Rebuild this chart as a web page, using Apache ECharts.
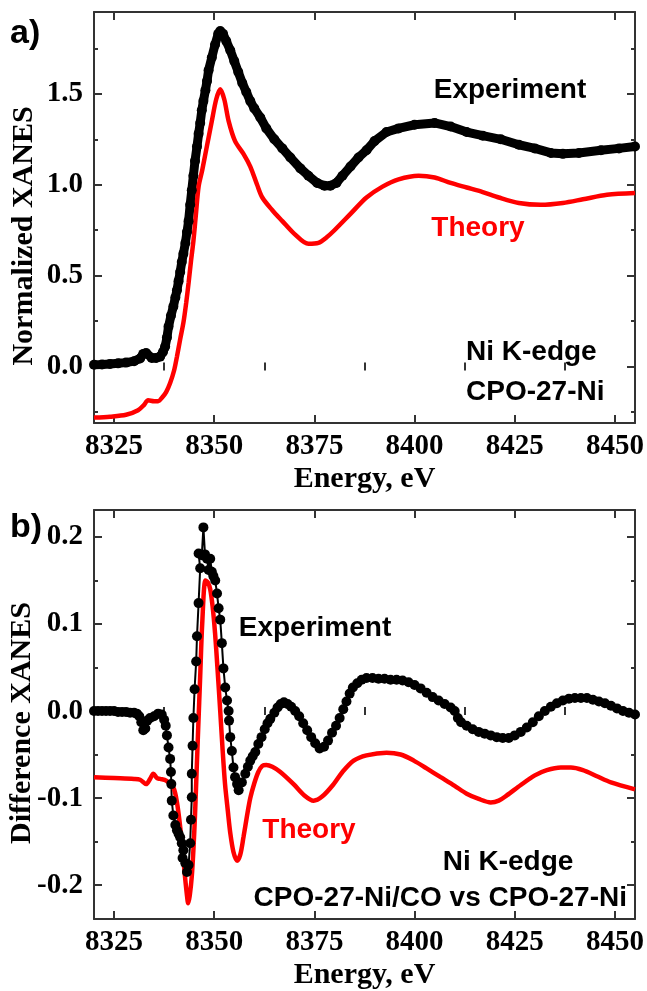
<!DOCTYPE html>
<html>
<head>
<meta charset="utf-8">
<script src="https://cdn.jsdelivr.net/npm/echarts@6/dist/echarts.min.js"></script>
<style>
  html, body { margin: 0; padding: 0; background: #fff; }
  #chart { width: 647px; height: 991px; }
</style>
</head>
<body>
<div id="chart"></div>
<script>
// ---- data ----
// a) Ni K-edge, CPO-27-Ni
var topExpE = [8320, 8322, 8324, 8326, 8328, 8330, 8331.5, 8332.3, 8333, 8334.4, 8335.5, 8336.5, 8337.2, 8337.75,
	8338.2, 8338.6, 8339.2, 8339.8, 8340.3, 8340.7, 8341.1, 8341.5, 8341.9, 8342.3, 8342.8, 8343.2, 8343.6, 8344,
	8344.4, 8344.8, 8345.2, 8345.7, 8346.1, 8346.5, 8346.9, 8347.3, 8347.8, 8348.2, 8348.6, 8349.4, 8350.2, 8351,
	8351.5, 8352.2, 8353, 8354, 8355, 8356, 8357, 8358, 8359, 8360, 8361.5, 8363, 8365, 8367, 8369, 8371.5, 8373.5,
	8375.7, 8377.5, 8379, 8380.5, 8382, 8384, 8386, 8388, 8390, 8393, 8396, 8400, 8405, 8409, 8413, 8417, 8421.5,
	8426, 8430, 8434, 8437, 8441, 8446.5, 8451, 8455];
var topExp = [0.01, 0.012, 0.015, 0.018, 0.022, 0.03, 0.045, 0.07, 0.075, 0.048, 0.048, 0.055, 0.08, 0.11,
	0.16, 0.22, 0.28, 0.33, 0.38, 0.42, 0.47, 0.52, 0.575, 0.62, 0.68, 0.74, 0.80, 0.89,
	0.97, 1.05, 1.13, 1.21, 1.28, 1.34, 1.41, 1.46, 1.52, 1.57, 1.63, 1.70, 1.77, 1.83,
	1.845, 1.83, 1.79, 1.74, 1.68, 1.62, 1.56, 1.51, 1.46, 1.42, 1.37, 1.31, 1.25, 1.20, 1.15, 1.09, 1.05,
	1.01, 0.995, 0.995, 1.01, 1.05, 1.10, 1.15, 1.19, 1.24, 1.29, 1.31, 1.33, 1.34, 1.32, 1.29, 1.27, 1.25,
	1.22, 1.20, 1.175, 1.17, 1.175, 1.19, 1.20, 1.21];

var topThE = [8320, 8324, 8328, 8331, 8332.5, 8333.5, 8335, 8336, 8337, 8338, 8339, 8340, 8340.7, 8341.5, 8342.3,
	8343, 8343.6, 8344.2, 8344.8, 8345.4, 8346.1, 8347, 8347.8, 8348.6, 8349.4, 8350.5, 8351.5, 8352.5, 8353.6,
	8355.2, 8357.3, 8359, 8360.7, 8362, 8364.5, 8367, 8370, 8373.5, 8376, 8378, 8380, 8384, 8388, 8392, 8396,
	8401, 8405, 8409, 8413, 8417, 8421, 8426, 8431.5, 8437, 8442, 8448, 8455];
var topTh = [-0.28, -0.275, -0.265, -0.24, -0.21, -0.185, -0.19, -0.19, -0.17, -0.14, -0.09, -0.02, 0.055, 0.15, 0.24,
	0.35, 0.46, 0.58, 0.69, 0.83, 0.99, 1.08, 1.17, 1.26, 1.35, 1.47, 1.525, 1.47, 1.35,
	1.24, 1.17, 1.10, 1.0, 0.93, 0.86, 0.80, 0.73, 0.675, 0.68, 0.71, 0.75, 0.84, 0.93, 0.99, 1.03,
	1.05, 1.04, 1.01, 0.985, 0.96, 0.93, 0.90, 0.89, 0.90, 0.92, 0.945, 0.955];

// b) difference CPO-27-Ni/CO vs CPO-27-Ni
var botExpE = [8320, 8321, 8322, 8323, 8324, 8325, 8326, 8327, 8328, 8329, 8330, 8330.7, 8331.3, 8331.8, 8332.3, 8332.8,
	8333.3, 8334, 8335, 8336, 8336.9, 8337.5, 8337.9, 8338.2, 8338.6, 8339, 8339.2, 8339.3, 8339.4, 8339.8, 8340.3,
	8340.7, 8341.1, 8341.5, 8341.9, 8342.3, 8342.1, 8342.8, 8343.2, 8343.6, 8344, 8344.2, 8344.4, 8344.4, 8344.6,
	8344.8, 8345.1, 8345.5, 8345.7, 8346.1, 8346.5, 8346.1, 8346.9, 8347.3, 8347.7, 8348.2, 8348.6, 8349, 8349.4,
	8349.8, 8350.25, 8350.7, 8351.1, 8351.5, 8351.9, 8352.3, 8352.75, 8353.2, 8353.6, 8353.7, 8354, 8354.4, 8354.8,
	8355.2, 8355.7, 8356.1, 8356.9, 8357.75, 8358.4, 8359, 8359.6, 8360.25, 8361, 8361.8, 8362.6, 8363.3, 8364,
	8365, 8365.8, 8366.6, 8367.4, 8368.3, 8369.2, 8370.2, 8371.2, 8372.2, 8373.2, 8374.2, 8375.2, 8376.3, 8377.4,
	8378.4, 8379.4, 8380.4, 8381.3, 8382.2, 8383, 8383.8, 8384.6, 8385.7, 8386.8, 8388, 8389.5, 8391, 8392.5, 8394,
	8395.5, 8397, 8398.5, 8400, 8401.5, 8403, 8404.5, 8406, 8407.5, 8409, 8410, 8410.8, 8411.6, 8413, 8414.5, 8416,
	8417.5, 8419, 8420.5, 8422, 8423.5, 8425, 8426.5, 8428, 8429.5, 8431, 8432.5, 8434, 8435.5, 8437, 8438.5, 8440,
	8441.5, 8443, 8444.5, 8446, 8447.5, 8449, 8450.5, 8452, 8453.5, 8455];
var botExp = [0.0, 0.0, 0.0, 0.0, 0.0, 0.0, -0.001, -0.001, -0.001, -0.002, -0.002, -0.003, -0.006, -0.013, -0.022, -0.02,
	-0.011, -0.008, -0.006, -0.003, -0.004, -0.01, -0.017, -0.028, -0.042, -0.055, -0.07, -0.084, -0.103, -0.12, -0.131,
	-0.137, -0.141, -0.145, -0.152, -0.16, -0.169, -0.175, -0.185, -0.177, -0.152, -0.125, -0.099, -0.072, -0.04,
	-0.008, 0.025, 0.057, 0.086, 0.124, 0.164, 0.181, 0.179, 0.211, 0.18, 0.175, 0.162, 0.175, 0.16,
	0.155, 0.15, 0.135, 0.118, 0.105, 0.078, 0.049, 0.027, 0.012, 0.0, -0.011, -0.03, -0.046, -0.065,
	-0.076, -0.084, -0.091, -0.082, -0.072, -0.064, -0.057, -0.052, -0.047, -0.038, -0.03, -0.021, -0.014, -0.009,
	-0.002, 0.004, 0.008, 0.01, 0.008, 0.005, 0.0, -0.006, -0.014, -0.022, -0.03, -0.037, -0.043, -0.041,
	-0.034, -0.025, -0.017, -0.008, 0.002, 0.011, 0.02, 0.027, 0.032, 0.036, 0.038, 0.038, 0.037, 0.037, 0.036,
	0.036, 0.035, 0.033, 0.03, 0.026, 0.021, 0.016, 0.012, 0.008, 0.004, 0.0, -0.008, -0.013, -0.017, -0.021, -0.024,
	-0.026, -0.028, -0.03, -0.031, -0.031, -0.028, -0.024, -0.019, -0.013, -0.006, 0.0, 0.005, 0.009, 0.012, 0.014, 0.015,
	0.015, 0.015, 0.013, 0.011, 0.009, 0.006, 0.003, 0.0, -0.002, -0.004];

var botThE = [8320, 8325, 8330, 8331.5, 8333, 8334, 8334.8, 8335.7, 8336.5, 8338, 8339.8, 8340.7, 8341.5, 8342.2,
	8342.7, 8343.2, 8343.5, 8343.9, 8344.4, 8344.8, 8345.2, 8345.6, 8346, 8346.5, 8347, 8347.8, 8348.4, 8349,
	8349.6, 8350.2, 8350.8, 8351.5, 8352.1, 8352.7, 8353.4, 8354, 8354.8, 8355.7, 8356.5, 8357.3, 8358.2, 8359,
	8360, 8361, 8362, 8363, 8364.5, 8366.5, 8369.8, 8372.5, 8374.8, 8377, 8379.8, 8382, 8384.8, 8388, 8393,
	8396.5, 8399.8, 8403, 8406.5, 8410, 8413, 8416, 8419, 8421, 8423, 8426.5, 8430, 8433, 8436.5, 8439, 8442,
	8445.5, 8449, 8455];
var botTh = [-0.076, -0.077, -0.078, -0.079, -0.084, -0.078, -0.072, -0.077, -0.078, -0.08, -0.088, -0.105, -0.133, -0.165,
	-0.19, -0.212, -0.221, -0.212, -0.19, -0.16, -0.12, -0.07, -0.02, 0.04, 0.1, 0.15, 0.148, 0.14,
	0.12, 0.09, 0.05, 0.0, -0.045, -0.084, -0.115, -0.14, -0.162, -0.172, -0.165, -0.145, -0.12, -0.1,
	-0.083, -0.07, -0.063, -0.062, -0.064, -0.07, -0.084, -0.097, -0.103, -0.098, -0.084, -0.07, -0.057, -0.051, -0.048,
	-0.05, -0.057, -0.066, -0.076, -0.086, -0.095, -0.101, -0.105, -0.103, -0.097, -0.085, -0.074, -0.068, -0.065, -0.065, -0.068,
	-0.075, -0.082, -0.09];

// ticks
var xTicks = [8325, 8350, 8375, 8400, 8425, 8450];
var xMinor = [8337.5, 8362.5, 8387.5, 8412.5, 8437.5];
var topYTicks = [0, 0.5, 1.0, 1.5];
var topYMinor = [-0.25, 0.25, 0.75, 1.25, 1.75];
var botYTicks = [-0.2, -0.1, 0, 0.1, 0.2];
var botYMinor = [-0.15, -0.05, 0.05, 0.15];

function zip(a, b) {
	var out = [];
	for (var i = 0; i < a.length; i++) out.push([a[i], b[i]]);
	return out;
}

var axisColor = '#333';
var serif = 'Liberation Serif';
var sans = 'Liberation Sans';

// one set of axes per side: major ticks (with labels on bottom/left) + minor ticks
function makeAxes(kind, grid, min, max, majors, minors, fmt, name) {
	var sides = kind === 'x' ? ['bottom', 'top'] : ['left', 'right'];
	var list = [];
	sides.forEach(function(side, i) {
		var major = {
			type: 'value',
			gridIndex: grid,
			position: side,
			min: min,
			max: max,
			axisLine: { show: true, onZero: false, lineStyle: { color: axisColor, width: 2 } },
			axisTick: { show: true, inside: true, length: 8, customValues: majors, lineStyle: { color: axisColor, width: 2 } },
			axisLabel: {
				show: i === 0,
				customValues: majors,
				formatter: fmt,
				margin: kind === 'x' ? 9 : 11,
				fontFamily: serif,
				fontWeight: 'bold',
				fontSize: 29,
				color: '#000'
			},
			splitLine: { show: false }
		};
		if(i === 0 && name) {
			major.name = name;
			major.nameLocation = 'middle';
			major.nameGap = 41;
			major.nameTextStyle = { fontFamily: serif, fontWeight: 'bold', fontSize: 30, color: '#000' };
		}
		list.push(major);
		list.push({
			type: 'value',
			gridIndex: grid,
			position: side,
			min: min,
			max: max,
			axisLine: { show: false },
			axisTick: { show: true, inside: true, length: 4, customValues: minors, lineStyle: { color: axisColor, width: 2 } },
			axisLabel: { show: false },
			splitLine: { show: false }
		});
	});
	return list;
}

var fmtX = function(v) { return String(Math.round(v)); };
var fmtY = function(v) { return v.toFixed(1); };

var xAxes = makeAxes('x', 0, 8320, 8455, xTicks, xMinor, fmtX, 'Energy, eV')
	.concat(makeAxes('x', 1, 8320, 8455, xTicks, xMinor, fmtX, 'Energy, eV'));
var yAxes = makeAxes('y', 0, -0.31, 1.95, topYTicks, topYMinor, fmtY)
	.concat(makeAxes('y', 1, -0.239, 0.231, botYTicks, botYMinor, fmtY));

function label(text, x, y, color, align, size, font, rot) {
	return {
		type: 'text',
		x: x,
		y: y,
		rotation: rot || 0,
		z: 100,
		style: {
			text: text,
			fill: color,
			font: 'bold ' + size + 'px "' + font + '"',
			align: align,
			verticalAlign: 'middle'
		}
	};
}

var chart = echarts.init(document.getElementById('chart'));
var option = {
	animation: false,
	backgroundColor: '#fff',
	grid: [
		{ left: 94, top: 12, width: 541, height: 411 },
		{ left: 94, top: 510, width: 541, height: 412 }
	],
	xAxis: xAxes,
	yAxis: yAxes,
	series: [{
		name: 'Experiment a',
		type: 'line',
		xAxisIndex: 0,
		yAxisIndex: 0,
		data: zip(topExpE, topExp),
		symbol: 'circle',
		symbolSize: 10,
		showAllSymbol: true,
		itemStyle: { color: '#000' },
		lineStyle: { color: '#000', width: 9 }
	}, {
		name: 'Theory a',
		type: 'line',
		xAxisIndex: 0,
		yAxisIndex: 0,
		data: zip(topThE, topTh),
		showSymbol: false,
		smooth: 0.3,
		lineStyle: { color: '#ff0000', width: 4.5 }
	}, {
		name: 'Experiment b',
		type: 'line',
		xAxisIndex: 4,
		yAxisIndex: 4,
		data: zip(botExpE, botExp),
		symbol: 'circle',
		symbolSize: 10,
		showAllSymbol: true,
		itemStyle: { color: '#000' },
		lineStyle: { color: '#000', width: 2 }
	}, {
		name: 'Theory b',
		type: 'line',
		xAxisIndex: 4,
		yAxisIndex: 4,
		data: zip(botThE, botTh),
		showSymbol: false,
		smooth: 0.3,
		lineStyle: { color: '#ff0000', width: 4.5 }
	}],
	graphic: [
		label('a)', 10, 34, '#000', 'left', 34, sans),
		label('b)', 10, 528, '#000', 'left', 34, sans),
		label('Normalized XANES', 24, 236, '#000', 'center', 30, serif, Math.PI / 2),
		label('Difference XANES', 22, 723, '#000', 'center', 30, serif, Math.PI / 2),
		label('Experiment', 510, 90, '#000', 'center', 28, sans),
		label('Theory', 478, 228, '#ff0000', 'center', 28, sans),
		label('Ni K-edge', 466, 352, '#000', 'left', 28, sans),
		label('CPO-27-Ni', 466, 392, '#000', 'left', 28, sans),
		label('Experiment', 315, 628, '#000', 'center', 28, sans),
		label('Theory', 309, 830, '#ff0000', 'center', 28, sans),
		label('Ni K-edge', 508, 862, '#000', 'center', 28, sans),
		label('CPO-27-Ni/CO vs CPO-27-Ni', 627, 898, '#000', 'right', 28, sans)
	]
};
chart.setOption(option);
</script>
</body>
</html>
